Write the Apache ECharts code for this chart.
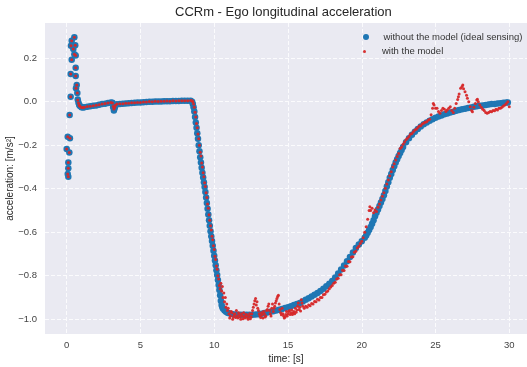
<!DOCTYPE html>
<html>
<head>
<meta charset="utf-8">
<script src="https://cdn.jsdelivr.net/npm/echarts@6/dist/echarts.min.js"></script>
<style>
  html, body { margin: 0; padding: 0; background: #fff; }
  #chart { width: 527px; height: 367px; }
</style>
</head>
<body>
<div id="chart"></div>
<script>
// first samples after start (same in both runs), [time s, accel m/s²]
const startupPoints = [
  [0.0, -0.217], [0.07, -0.161], [0.07, -0.332], [0.11, -0.279], [0.11, -0.306], [0.11, -0.345],
  [0.18, -0.233], [0.22, -0.168], [0.2, -0.061], [0.27, 0.023], [0.27, 0.127], [0.34, 0.193],
  [0.29, 0.257], [0.34, 0.28], [0.45, 0.242], [0.52, 0.296], [0.52, 0.218], [0.58, 0.26],
  [0.61, 0.212], [0.61, 0.156], [0.61, 0.118], [0.63, 0.062], [0.68, 0.077], [0.72, 0.04]
];

// without the model (ideal sensing)
const idealPoints = [
  [0.75, 0.010], [0.8, -0.005], [0.85, -0.015], [0.9, -0.020], [1.0, -0.025], [1.1, -0.026], [1.2, -0.025],
  [1.4, -0.023], [1.6, -0.021], [1.8, -0.019], [2.0, -0.017], [2.2, -0.014], [2.4, -0.011], [2.6, -0.009],
  [2.8, -0.006], [3.0, -0.004], [3.1, -0.005], [3.15, -0.025], [3.2, -0.040], [3.25, -0.030], [3.3, -0.018],
  [3.4, -0.012], [3.6, -0.010], [3.8, -0.009], [4.0, -0.008], [4.2, -0.007], [4.4, -0.006], [4.6, -0.005],
  [4.8, -0.004], [5.0, -0.003], [5.2, -0.002], [5.4, -0.001], [5.6, 0.000], [5.8, 0.000], [6.0, 0.001],
  [6.2, 0.001], [6.4, 0.001], [6.6, 0.002], [6.8, 0.002], [7.0, 0.002], [7.2, 0.003], [7.4, 0.003],
  [7.6, 0.003], [7.8, 0.004], [8.0, 0.004], [8.2, 0.005], [8.4, 0.005], [8.5, 0.000],
  [8.55, -0.010], [8.6, -0.025], [8.65, -0.045], [8.7, -0.070], [8.75, -0.095], [8.8, -0.120], [8.85, -0.145],
  [8.9, -0.170], [8.95, -0.200], [9.0, -0.228], [9.05, -0.255], [9.1, -0.280], [9.15, -0.303], [9.2, -0.326],
  [9.25, -0.348], [9.3, -0.370], [9.35, -0.392], [9.4, -0.415], [9.45, -0.440], [9.5, -0.466], [9.55, -0.492],
  [9.6, -0.518], [9.65, -0.545], [9.7, -0.570], [9.75, -0.595], [9.8, -0.618], [9.85, -0.640], [9.9, -0.662],
  [9.95, -0.685], [10.0, -0.708], [10.05, -0.730], [10.1, -0.752], [10.15, -0.775], [10.2, -0.797],
  [10.25, -0.820], [10.3, -0.843], [10.35, -0.866], [10.4, -0.890], [10.45, -0.915], [10.5, -0.935],
  [10.55, -0.945], [10.6, -0.952], [10.7, -0.960], [10.8, -0.966], [10.9, -0.970], [11.0, -0.973],
  [11.2, -0.976], [11.4, -0.978], [11.6, -0.979], [11.8, -0.980], [12.0, -0.980], [12.2, -0.980],
  [12.4, -0.980], [12.6, -0.979], [12.8, -0.978], [13.0, -0.977], [13.2, -0.975], [13.4, -0.972],
  [13.6, -0.969], [13.8, -0.966], [14.0, -0.963], [14.2, -0.960], [14.4, -0.957], [14.6, -0.953],
  [14.8, -0.949], [15.0, -0.945], [15.2, -0.940], [15.4, -0.935], [15.6, -0.930], [15.8, -0.925],
  [16.0, -0.918], [16.2, -0.911], [16.4, -0.904], [16.6, -0.896], [16.8, -0.888], [17.0, -0.880],
  [17.2, -0.870], [17.4, -0.860], [17.6, -0.849], [17.8, -0.837], [18.0, -0.824], [18.2, -0.808],
  [18.4, -0.790], [18.6, -0.771], [18.8, -0.753], [19.0, -0.734], [19.2, -0.714], [19.4, -0.693],
  [19.6, -0.672], [19.8, -0.656], [20.0, -0.642], [20.2, -0.626], [20.3, -0.615], [20.4, -0.603],
  [20.5, -0.590], [20.6, -0.576], [20.7, -0.561], [20.8, -0.545], [20.9, -0.527], [21.0, -0.510],
  [21.1, -0.495], [21.2, -0.480], [21.3, -0.463], [21.4, -0.447], [21.5, -0.430], [21.6, -0.410],
  [21.7, -0.390], [21.8, -0.370], [21.9, -0.350], [22.0, -0.332], [22.1, -0.314], [22.2, -0.297],
  [22.3, -0.280], [22.4, -0.265], [22.5, -0.250], [22.6, -0.236], [22.7, -0.222], [22.8, -0.208],
  [23.0, -0.186], [23.2, -0.168], [23.4, -0.152], [23.6, -0.138], [23.8, -0.125], [24.0, -0.114],
  [24.2, -0.104], [24.4, -0.095], [24.6, -0.087], [24.8, -0.080], [25.0, -0.074], [25.2, -0.068],
  [25.4, -0.063], [25.6, -0.058], [25.8, -0.054], [26.0, -0.050], [26.2, -0.046], [26.4, -0.042],
  [26.6, -0.038], [26.8, -0.035], [27.0, -0.032], [27.2, -0.029], [27.4, -0.026], [27.6, -0.023],
  [27.8, -0.021], [28.0, -0.019], [28.2, -0.017], [28.4, -0.015], [28.6, -0.013], [28.8, -0.011],
  [29.0, -0.010], [29.2, -0.008], [29.4, -0.007], [29.6, -0.005], [29.8, -0.004], [29.9, -0.003]
];

// with the model
const modelPoints = [
  [0.75, 0.008], [0.8, -0.006], [0.85, -0.016], [0.9, -0.021], [1.0, -0.026], [1.1, -0.027], [1.2, -0.025],
  [1.4, -0.022], [1.6, -0.021], [1.8, -0.018], [2.0, -0.016], [2.2, -0.014], [2.4, -0.011], [2.6, -0.008],
  [2.8, -0.006], [3.0, -0.003], [3.1, -0.006], [3.15, -0.022], [3.2, -0.034], [3.25, -0.027], [3.3, -0.016],
  [3.4, -0.011], [3.6, -0.009], [3.8, -0.009], [4.0, -0.007], [4.2, -0.007], [4.4, -0.005], [4.6, -0.005],
  [4.8, -0.003], [5.0, -0.003], [5.2, -0.001], [5.4, -0.001], [5.6, 0.001], [5.8, 0.000], [6.0, 0.002],
  [6.2, 0.001], [6.4, 0.002], [6.6, 0.002], [6.8, 0.003], [7.0, 0.002], [7.2, 0.004], [7.4, 0.003],
  [7.6, 0.004], [7.8, 0.004], [8.0, 0.005], [8.2, 0.005], [8.4, 0.006], [8.5, 0.004],
  [8.55, 0.000], [8.6, -0.010], [8.65, -0.025], [8.7, -0.048], [8.75, -0.070], [8.8, -0.100], [8.85, -0.120],
  [8.9, -0.148], [8.95, -0.170], [9.0, -0.200], [9.05, -0.232], [9.1, -0.250], [9.15, -0.282], [9.2, -0.300],
  [9.25, -0.326], [9.3, -0.345], [9.35, -0.372], [9.4, -0.390], [9.45, -0.418], [9.5, -0.440], [9.55, -0.470],
  [9.6, -0.490], [9.65, -0.520], [9.7, -0.545], [9.75, -0.570], [9.8, -0.590], [9.85, -0.618], [9.9, -0.635],
  [9.95, -0.662], [10.0, -0.680], [10.05, -0.710], [10.1, -0.725], [10.15, -0.755], [10.2, -0.770],
  [10.25, -0.800], [10.3, -0.815], [10.35, -0.845], [10.4, -0.860], [10.45, -0.835], [10.5, -0.870],
  [10.55, -0.850], [10.6, -0.900], [10.65, -0.880], [10.7, -0.920], [10.75, -0.900], [10.8, -0.945],
  [10.85, -0.930], [10.9, -0.960], [10.95, -0.950], [11.0, -0.975],
  [11.05, -0.995], [11.1, -0.985], [11.15, -0.965], [11.2, -0.970], [11.25, -1.000], [11.3, -0.990],
  [11.35, -0.980], [11.4, -0.975], [11.45, -0.992], [11.5, -0.960], [11.55, -0.985], [11.6, -0.995],
  [11.65, -0.970], [11.7, -0.980], [11.75, -0.990], [11.8, -1.000], [11.85, -0.975], [11.9, -0.985],
  [11.95, -0.998], [12.0, -0.970], [12.05, -0.988], [12.1, -0.995], [12.15, -0.978], [12.2, -0.980],
  [12.25, -0.992], [12.3, -1.000], [12.35, -0.985], [12.4, -0.975], [12.45, -0.998], [12.5, -0.990],
  [12.55, -0.975], [12.6, -0.960], [12.65, -0.945], [12.7, -0.930], [12.75, -0.915], [12.8, -0.905],
  [12.85, -0.935], [12.9, -0.920], [12.95, -0.950], [13.0, -0.960], [13.05, -0.975], [13.1, -0.985],
  [13.15, -0.992], [13.2, -0.970], [13.25, -0.980], [13.3, -0.995], [13.35, -0.965], [13.4, -0.975],
  [13.45, -0.990], [13.5, -0.985], [13.55, -0.960], [13.6, -0.955], [13.65, -0.940], [13.7, -0.930],
  [13.75, -0.960], [13.8, -0.975], [13.85, -0.985], [13.9, -0.950], [13.95, -0.930], [14.0, -0.965],
  [14.05, -0.950], [14.1, -0.940], [14.15, -0.925], [14.2, -0.915], [14.25, -0.905], [14.3, -0.895],
  [14.35, -0.890], [14.4, -0.930], [14.45, -0.955], [14.5, -0.970], [14.55, -0.980], [14.6, -0.950],
  [14.65, -0.975], [14.7, -0.985], [14.75, -0.995], [14.8, -0.990], [14.85, -0.978], [14.9, -0.965],
  [14.95, -0.985], [15.0, -0.975], [15.05, -0.965], [15.1, -0.960], [15.15, -0.978], [15.2, -0.970],
  [15.25, -0.958], [15.3, -0.978], [15.35, -0.972], [15.4, -0.965], [15.45, -0.975], [15.5, -0.950],
  [15.55, -0.968], [15.6, -0.958], [15.65, -0.940], [15.7, -0.925], [15.75, -0.955], [15.8, -0.945],
  [15.85, -0.962], [15.9, -0.910], [15.95, -0.925], [16.0, -0.940],
  [16.1, -0.950], [16.2, -0.940], [16.3, -0.945], [16.4, -0.935], [16.5, -0.938], [16.6, -0.928],
  [16.7, -0.930], [16.8, -0.918], [16.9, -0.920], [17.0, -0.908], [17.1, -0.912], [17.2, -0.900],
  [17.3, -0.900], [17.4, -0.888], [17.5, -0.885], [17.6, -0.875], [17.7, -0.870], [17.8, -0.860],
  [17.9, -0.852], [18.0, -0.845], [18.1, -0.835], [18.2, -0.830], [18.3, -0.815], [18.4, -0.812],
  [18.5, -0.795], [18.6, -0.795], [18.7, -0.775], [18.8, -0.776], [18.9, -0.755], [19.0, -0.757],
  [19.1, -0.735], [19.2, -0.736], [19.3, -0.714], [19.4, -0.713], [19.5, -0.692], [19.6, -0.688],
  [19.7, -0.672], [19.8, -0.665], [19.9, -0.652], [20.0, -0.642], [20.1, -0.625], [20.2, -0.600],
  [20.3, -0.575], [20.4, -0.540], [20.5, -0.500], [20.55, -0.483], [20.6, -0.500], [20.7, -0.490],
  [20.8, -0.510], [20.9, -0.498], [21.0, -0.505], [21.1, -0.485], [21.2, -0.470], [21.3, -0.452],
  [21.4, -0.435], [21.5, -0.418], [21.6, -0.398], [21.7, -0.378], [21.8, -0.360], [21.9, -0.340],
  [22.0, -0.322], [22.1, -0.300], [22.2, -0.285], [22.3, -0.268], [22.4, -0.252], [22.5, -0.238],
  [22.6, -0.215], [22.7, -0.208], [22.8, -0.195], [22.9, -0.185], [23.0, -0.175], [23.1, -0.168],
  [23.2, -0.160], [23.3, -0.150], [23.4, -0.146], [23.5, -0.138], [23.6, -0.130], [23.7, -0.126],
  [23.8, -0.118], [23.9, -0.112], [24.0, -0.110], [24.1, -0.102], [24.2, -0.098], [24.3, -0.094],
  [24.4, -0.092], [24.5, -0.085], [24.6, -0.080], [24.7, -0.060], [24.8, -0.030], [24.85, -0.008],
  [24.9, -0.015], [25.0, -0.030], [25.1, -0.030], [25.2, -0.045], [25.3, -0.053], [25.4, -0.040],
  [25.5, -0.030], [25.6, -0.035], [25.7, -0.045], [25.8, -0.038], [25.9, -0.030], [26.0, -0.023],
  [26.1, -0.040], [26.2, -0.050], [26.3, -0.030], [26.4, -0.008], [26.5, 0.010], [26.55, 0.023],
  [26.6, 0.035], [26.7, 0.062], [26.8, 0.070], [26.85, 0.077], [26.9, 0.060], [27.0, 0.046],
  [27.1, 0.030], [27.16, 0.016], [27.25, 0.000], [27.35, -0.023], [27.45, -0.040], [27.5, -0.046],
  [27.6, -0.025], [27.7, -0.008], [27.8, 0.008], [27.84, 0.011], [27.9, 0.000], [28.0, -0.015],
  [28.1, -0.025], [28.2, -0.035], [28.3, -0.040], [28.4, -0.050], [28.5, -0.053], [28.6, -0.050],
  [28.7, -0.045], [28.8, -0.046], [28.9, -0.040], [29.0, -0.042], [29.1, -0.035], [29.2, -0.038],
  [29.3, -0.030], [29.4, -0.030], [29.5, -0.025], [29.6, -0.020], [29.7, -0.015], [29.8, -0.008],
  [29.9, 0.000], [30.0, -0.023]
];

const xTicks = [0, 5, 10, 15, 20, 25, 30];
const yTicks = [-1.0, -0.8, -0.6, -0.4, -0.2, 0.0, 0.2];

const FONT = "Liberation Sans, Arial, sans-serif";
const gridLine = { show: true, lineStyle: { color: "#fbfbfd", width: 1, type: [4, 2] } };
const legendText = { fontFamily: FONT, fontSize: 9.5, color: "#333", lineHeight: 12 };

const chart = echarts.init(document.getElementById("chart"), null, { renderer: "canvas" });
chart.setOption({
  animation: false,
  backgroundColor: "#ffffff",
  title: {
    text: "CCRm - Ego longitudinal acceleration",
    left: 175,
    top: 6,
    padding: 0,
    textStyle: { fontFamily: FONT, fontSize: 13, fontWeight: "normal", color: "#262626" },
  },
  legend: [
    {
      data: ["without the model (ideal sensing)"],
      left: 363,
      top: 31,
      padding: 0,
      itemWidth: 25,
      itemHeight: 6,
      textStyle: legendText,
    },
    {
      data: ["with the model"],
      left: 363,
      top: 45.5,
      padding: 0,
      itemWidth: 25,
      itemHeight: 3,
      textStyle: legendText,
    },
  ],
  grid: {
    left: 45, right: 0, top: 23, bottom: 33,
    outerBoundsMode: "none",
    containLabel: false,
    show: true, backgroundColor: "#eaeaf2", borderWidth: 0,
  },
  xAxis: {
    type: "value",
    min: -1.47,
    max: 31.2,
    name: "time: [s]",
    nameLocation: "middle",
    nameGap: 20,
    nameMoveOverlap: false,
    nameTextStyle: { fontFamily: FONT, fontSize: 10, color: "#262626" },
    axisLine: { show: false },
    axisTick: { show: false, customValues: xTicks },
    axisLabel: { customValues: xTicks, margin: 6, fontFamily: FONT, fontSize: 9.5, color: "#444" },
    splitLine: gridLine,
  },
  yAxis: {
    type: "value",
    min: -1.068,
    max: 0.362,
    name: "acceleration: [m/s²]",
    nameLocation: "middle",
    nameGap: 30,
    nameMoveOverlap: false,
    nameTextStyle: { fontFamily: FONT, fontSize: 10, color: "#262626" },
    axisLine: { show: false },
    axisTick: { show: false, customValues: yTicks },
    axisLabel: {
      customValues: yTicks,
      margin: 8,
      fontFamily: FONT,
      fontSize: 9.5,
      color: "#444",
      formatter: (v) => v.toFixed(1).replace("-", "\u2212"),
    },
    splitLine: gridLine,
  },
  series: [
    {
      name: "without the model (ideal sensing)",
      type: "scatter",
      symbol: "circle",
      symbolSize: 6.5,
      itemStyle: { color: "#1f77b4", opacity: 1 },
      data: startupPoints.concat(idealPoints),
    },
    {
      name: "with the model",
      type: "scatter",
      symbol: "circle",
      symbolSize: 3,
      itemStyle: { color: "#d62728", opacity: 0.95 },
      data: startupPoints.concat(modelPoints),
    },
  ],
});
</script>
</body>
</html>
